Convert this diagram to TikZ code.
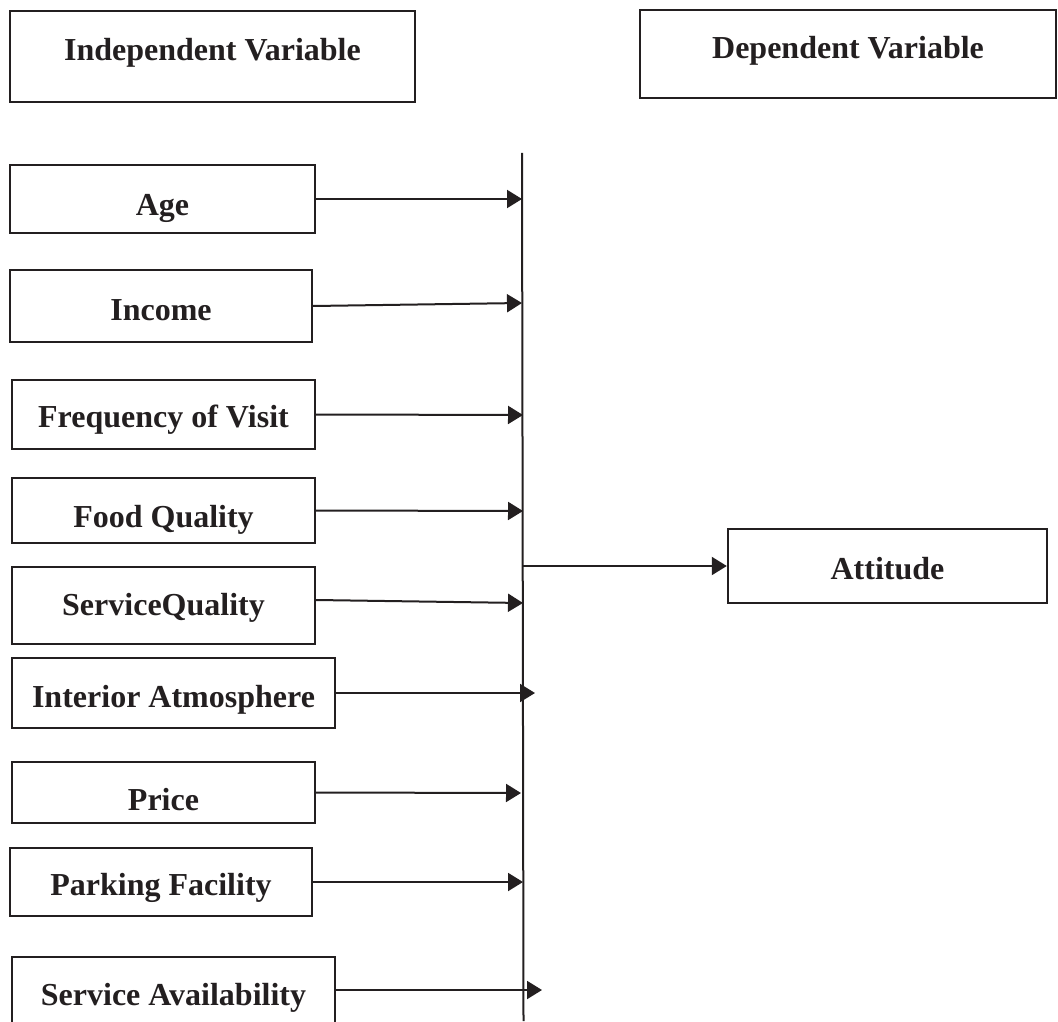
\documentclass[tikz,border=0pt]{standalone}
\usepackage{fontspec}
\setmainfont{Liberation Serif}
\usetikzlibrary{arrows.meta}
\definecolor{ink}{HTML}{231F20}
\begin{document}
\begin{tikzpicture}[x=0.5pt,y=-0.5pt,
  box/.style={draw=ink, line width=1.2pt, inner sep=0pt, text=ink,
    font=\fontsize{16}{19}\selectfont\bfseries, text depth=0pt},
  arr/.style={draw=ink, line width=1pt, -{Triangle[length=7.5pt,width=9pt]}},
  vline/.style={draw=ink, line width=1pt}]
\useasboundingbox (0,0) rectangle (1058,1021);
\clip (0,0) rectangle (1058,1021);
% header boxes
\node[box, minimum width=202.5pt, minimum height=45.5pt, text height=4.5pt] (indep) at (212.5,56.5) {Independent Variable};
\node[box, minimum width=208pt, minimum height=44pt, text height=5pt] (dep) at (848,54) {Dependent Variable};
% independent variables
\node[box, minimum width=152.5pt, minimum height=34pt, text height=17pt] (age) at (162.5,199) {Age};
\node[box, minimum width=151pt, minimum height=36pt, text height=15pt] (income) at (161,306) {Income};
\node[box, minimum width=151.5pt, minimum height=34.5pt, text height=12.5pt] (freq) at (163.5,414.5) {Frequency of Visit};
\node[box, minimum width=151.5pt, minimum height=32.5pt, text height=16.5pt] (food) at (163.5,510.5) {Food Quality};
\node[box, minimum width=151.5pt, minimum height=38.5pt, text height=9.5pt] (sq) at (163.5,605.5) {ServiceQuality};
\node[box, minimum width=161.5pt, minimum height=35pt, text height=14pt] (interior) at (173.5,693) {Interior Atmosphere};
\node[box, minimum width=151.5pt, minimum height=30.5pt, text height=17.5pt] (price) at (163.5,792.5) {Price};
\node[box, minimum width=151pt, minimum height=34pt, text height=13pt] (parking) at (161,882) {Parking Facility};
\node[box, minimum width=161.5pt, minimum height=39pt, text height=9pt] (sa) at (173.5,996) {Service Availability};
% dependent variable
\node[box, minimum width=159.5pt, minimum height=37pt, text height=13pt] (att) at (887.5,566) {Attitude};
% collector line
\coordinate (ltop) at (522,153);
\coordinate (lbot) at (523.5,1021);
\draw[vline] (ltop) -- (lbot);
% arrow targets
\coordinate (tage) at (522,199);
\coordinate (tincome) at (522,303);
\coordinate (tfreq) at (523,415);
\coordinate (tfood) at (523,511);
\coordinate (tsq) at (523,603);
\coordinate (tinterior) at (535,693);
\coordinate (tprice) at (521,793);
\coordinate (tparking) at (523,882);
\coordinate (tsa) at (542,990);
\coordinate (satt) at (522.5,566);
% connectors
\draw[arr] (age.east) -- (tage);
\draw[arr] (income.east) -- (tincome);
\draw[arr] (freq.east) -- (tfreq);
\draw[arr] (food.east) -- (tfood);
\draw[arr] ([yshift=2.75pt]sq.east) -- (tsq);
\draw[arr] (interior.east) -- (tinterior);
\draw[arr] (price.east) -- (tprice);
\draw[arr] (parking.east) -- (tparking);
\draw[arr] ([yshift=3pt]sa.east) -- (tsa);
\draw[arr] (satt) -- (att.west);
\end{tikzpicture}
\end{document}
